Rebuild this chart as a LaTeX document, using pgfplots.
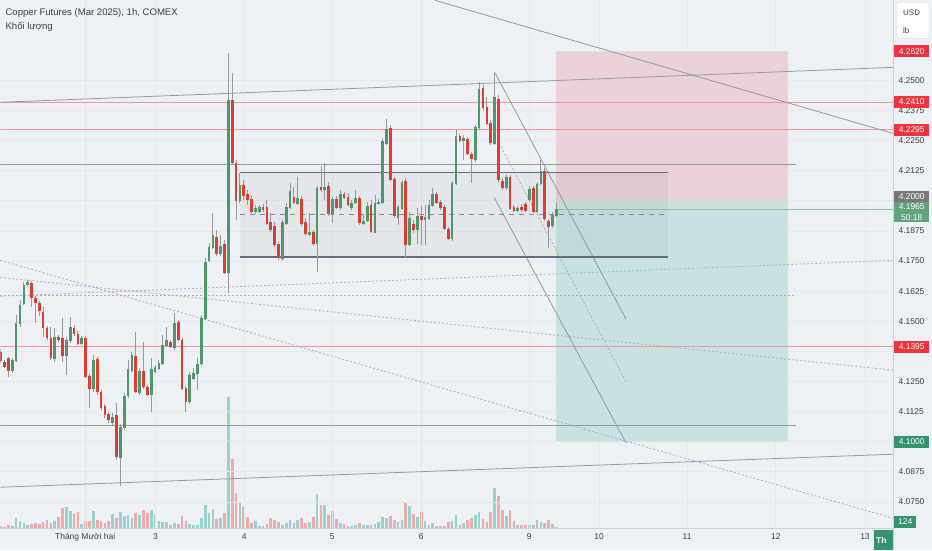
\documentclass[border=0pt]{standalone}
\usepackage{fontspec}
\setmainfont{Liberation Sans}
\usepackage{pgfplots}
\usepackage{pgfplotstable}
\pgfplotsset{compat=1.18}
\definecolor{bgc}{RGB}{237,240,244}
\definecolor{gridc}{RGB}{228,232,237}
\definecolor{cgreen}{RGB}{78,150,108}
\definecolor{cred}{RGB}{222,62,50}
\definecolor{wickc}{RGB}{150,152,158}
\definecolor{volg}{RGB}{152,210,205}
\definecolor{volr}{RGB}{240,170,170}
\definecolor{pinkc}{RGB}{233,210,216}
\definecolor{tealc}{RGB}{200,226,225}
\definecolor{lredc}{RGB}{238,150,156}
\definecolor{lgrey}{RGB}{150,152,160}
\definecolor{dashc}{RGB}{175,168,192}
\definecolor{rangec}{RGB}{105,108,118}
\definecolor{tickc}{RGB}{60,62,70}
\definecolor{boxred}{RGB}{238,52,64}
\definecolor{boxgreen}{RGB}{52,148,112}
\definecolor{boxlg}{RGB}{96,164,126}
\definecolor{boxgrey}{RGB}{118,120,126}

\pgfplotstableread{
i o h l c v
0 4.1372 4.1384 4.1326 4.1338 160
1 4.1330 4.1338 4.1305 4.1313 120
2 4.1346 4.1350 4.1268 4.1297 240
3 4.1297 4.1346 4.1285 4.1338 160
4 4.1338 4.1525 4.1330 4.1492 800
5 4.1492 4.1587 4.1475 4.1566 560
6 4.1575 4.1662 4.1566 4.1649 400
7 4.1653 4.1670 4.1645 4.1662 240
8 4.1658 4.1666 4.1558 4.1600 320
9 4.1595 4.1604 4.1492 4.1579 400
10 4.1575 4.1583 4.1521 4.1546 320
11 4.1537 4.1558 4.1433 4.1475 480
12 4.1471 4.1479 4.1421 4.1433 640
13 4.1429 4.1475 4.1338 4.1350 400
14 4.1346 4.1471 4.1330 4.1433 560
15 4.1433 4.1442 4.1413 4.1425 880
16 4.1429 4.1512 4.1330 4.1359 1600
17 4.1359 4.1433 4.1276 4.1421 1680
18 4.1421 4.1516 4.1409 4.1475 1360
19 4.1471 4.1483 4.1438 4.1450 1120
20 4.1446 4.1458 4.1400 4.1409 1280
21 4.1409 4.1438 4.1400 4.1429 320
22 4.1429 4.1438 4.1263 4.1272 560
23 4.1272 4.1280 4.1139 4.1222 560
24 4.1222 4.1359 4.1206 4.1338 1360
25 4.1342 4.1350 4.1193 4.1210 640
26 4.1206 4.1214 4.1131 4.1143 560
27 4.1147 4.1155 4.1097 4.1114 400
28 4.1114 4.1122 4.1077 4.1093 560
29 4.1081 4.1118 4.1068 4.1101 1120
30 4.1110 4.1160 4.0923 4.0940 800
31 4.0936 4.1072 4.0815 4.1060 1280
32 4.1060 4.1201 4.1048 4.1189 960
33 4.1193 4.1338 4.1181 4.1301 1040
34 4.1297 4.1372 4.1288 4.1359 800
35 4.1355 4.1454 4.1201 4.1210 1200
36 4.1206 4.1305 4.1193 4.1293 1040
37 4.1293 4.1413 4.1218 4.1230 1440
38 4.1226 4.1234 4.1189 4.1197 1200
39 4.1197 4.1346 4.1122 4.1301 1440
40 4.1293 4.1317 4.1285 4.1309 1120
41 4.1305 4.1338 4.1297 4.1326 560
42 4.1326 4.1442 4.1317 4.1400 480
43 4.1400 4.1475 4.1392 4.1421 480
44 4.1413 4.1421 4.1388 4.1396 240
45 4.1392 4.1533 4.1380 4.1492 400
46 4.1496 4.1504 4.1417 4.1425 320
47 4.1421 4.1429 4.1214 4.1222 960
48 4.1222 4.1230 4.1122 4.1168 560
49 4.1168 4.1288 4.1155 4.1276 320
50 4.1263 4.1305 4.1255 4.1285 240
51 4.1285 4.1346 4.1214 4.1321 240
52 4.1326 4.1525 4.1313 4.1512 800
53 4.1512 4.1762 4.1504 4.1745 1840
54 4.1753 4.1824 4.1745 4.1807 1200
55 4.1807 4.1948 4.1799 4.1857 1520
56 4.1849 4.1878 4.1770 4.1782 720
57 4.1782 4.1857 4.1770 4.1811 800
58 4.1819 4.1836 4.1695 4.1703 1200
59 4.1703 4.2612 4.1616 4.2417 10480
60 4.2417 4.2529 4.2147 4.2160 5520
61 4.2156 4.2168 4.1919 4.2002 2800
62 4.2002 4.2114 4.1990 4.2064 2000
63 4.2064 4.2085 4.2002 4.2023 1680
64 4.2027 4.2044 4.1981 4.2006 880
65 4.2006 4.2023 4.1948 4.1956 400
66 4.1956 4.1981 4.1944 4.1969 560
67 4.1956 4.1981 4.1948 4.1973 160
68 4.1973 4.1985 4.1952 4.1965 160
69 4.1973 4.2002 4.1898 4.1907 320
70 4.1911 4.1948 4.1869 4.1882 800
71 4.1894 4.1911 4.1807 4.1819 640
72 4.1819 4.1828 4.1753 4.1766 480
73 4.1762 4.1919 4.1749 4.1911 240
74 4.1907 4.1990 4.1898 4.1973 400
75 4.1973 4.2073 4.1965 4.2040 640
76 4.2015 4.2056 4.1985 4.1994 400
77 4.1990 4.2097 4.1981 4.2010 640
78 4.2006 4.2019 4.1894 4.1907 800
79 4.1911 4.1927 4.1853 4.1865 400
80 4.1861 4.1948 4.1853 4.1869 480
81 4.1869 4.1878 4.1811 4.1824 880
82 4.1824 4.2060 4.1703 4.2052 2720
83 4.2056 4.2143 4.2035 4.2048 1840
84 4.2048 4.2156 4.2002 4.2056 1840
85 4.2060 4.2077 4.1936 4.1948 1040
86 4.1948 4.2015 4.1907 4.2006 1360
87 4.2006 4.2019 4.1965 4.1973 720
88 4.1973 4.2044 4.1961 4.2027 400
89 4.2027 4.2035 4.2006 4.2015 320
90 4.2015 4.2031 4.1977 4.1985 160
91 4.1973 4.2002 4.1961 4.1990 160
92 4.1994 4.2044 4.1985 4.2010 240
93 4.2010 4.2019 4.1898 4.1911 400
94 4.1907 4.1940 4.1898 4.1915 240
95 4.1919 4.1994 4.1911 4.1977 240
96 4.1981 4.2002 4.1865 4.1873 240
97 4.1869 4.2023 4.1865 4.1990 320
98 4.1990 4.2006 4.1981 4.1994 480
99 4.1994 4.2259 4.1985 4.2247 880
100 4.2239 4.2338 4.2230 4.2297 800
101 4.2301 4.2313 4.2081 4.2089 960
102 4.2089 4.2097 4.1927 4.1940 640
103 4.1931 4.1981 4.1898 4.1973 480
104 4.1969 4.2085 4.1961 4.2077 640
105 4.2081 4.2093 4.1762 4.1819 2080
106 4.1819 4.1952 4.1811 4.1927 1760
107 4.1903 4.1919 4.1865 4.1882 1120
108 4.1882 4.1969 4.1819 4.1936 880
109 4.1936 4.1977 4.1815 4.1923 1280
110 4.1923 4.1981 4.1815 4.1931 560
111 4.1927 4.2002 4.1919 4.1981 240
112 4.1981 4.2052 4.1973 4.2027 400
113 4.2027 4.2035 4.1985 4.1994 160
114 4.1994 4.2002 4.1961 4.1973 160
115 4.1973 4.1981 4.1878 4.1886 160
116 4.1882 4.1890 4.1836 4.1844 480
117 4.1844 4.2081 4.1832 4.2073 560
118 4.2073 4.2293 4.2064 4.2268 1040
119 4.2268 4.2276 4.2243 4.2251 240
120 4.2251 4.2272 4.2168 4.2259 400
121 4.2255 4.2263 4.2189 4.2197 640
122 4.2193 4.2201 4.2073 4.2176 800
123 4.2172 4.2313 4.2160 4.2305 1040
124 4.2305 4.2492 4.2293 4.2463 1280
125 4.2467 4.2479 4.2376 4.2388 720
126 4.2388 4.2429 4.2313 4.2322 480
127 4.2322 4.2334 4.2230 4.2243 1280
128 4.2239 4.2533 4.2230 4.2429 3200
129 4.2421 4.2438 4.2073 4.2089 2560
130 4.2081 4.2093 4.2044 4.2056 1440
131 4.2056 4.2106 4.2044 4.2097 960
132 4.2097 4.2106 4.1961 4.1969 1440
133 4.1973 4.1981 4.1952 4.1961 560
134 4.1961 4.1977 4.1952 4.1969 240
135 4.1973 4.1985 4.1952 4.1965 240
136 4.1985 4.1994 4.1952 4.1961 240
137 4.2006 4.2060 4.1994 4.2048 240
138 4.2052 4.2060 4.1948 4.1956 240
139 4.1956 4.2077 4.1948 4.2069 640
140 4.2073 4.2168 4.2064 4.2122 480
141 4.2122 4.2135 4.1915 4.1927 400
142 4.1915 4.1923 4.1803 4.1894 640
143 4.1898 4.1952 4.1886 4.1940 320
144 4.1940 4.1994 4.1931 4.1965 124
}\candles

\begin{document}
\begin{tikzpicture}
\fill[bgc] (0bp,0bp) rectangle (932bp,550bp);
% volume pane
\begin{axis}[at={(0bp,22bp)}, anchor=south west, scale only axis,
  width=893bp, height=528bp, xmin=-0.08, xmax=231.27, ymin=0, ymax=42240,
  hide axis]
\addplot[ycomb, mark=none, draw=volg, line width=2.7bp,
  restrict expr to domain={\thisrow{c}-\thisrow{o}}{0:1}] table[x=i,y=v]{\candles};
\addplot[ycomb, mark=none, draw=volr, line width=2.7bp,
  restrict expr to domain={\thisrow{c}-\thisrow{o}}{-1:-0.00001}] table[x=i,y=v]{\candles};
\end{axis}
% price pane
\begin{axis}[at={(0bp,22bp)}, anchor=south west, scale only axis,
  width=893bp, height=528bp, xmin=-0.08, xmax=231.27, ymin=4.0641, ymax=4.2832,
  clip mode=individual,
  axis line style={draw=none}, major tick length=0pt,
  grid=major, grid style={draw=gridc, line width=0.7bp},
  ytick={4.075,4.0875,4.1,4.1125,4.125,4.15,4.1625,4.175,4.1875,4.2125,4.225,4.2375,4.25},
  extra y ticks={4.1375,4.2}, extra y tick labels={},
  extra y tick style={grid=major, major tick length=0pt},
  yticklabel pos=right,
  yticklabel={\pgfmathprintnumber[fixed,fixed zerofill,precision=4,assume math mode=true]{\tick}},
  yticklabel style={font=\fontsize{8.5}{10}\selectfont, text=tickc, anchor=west, xshift=2bp},
  xtick={21.9,40.1,63.1,85.9,109.0,137.0,155.1,177.9,200.9,224.0},
  xticklabels={Tháng Mười hai,3,4,5,6,9,10,11,12,13},
  xticklabel style={font=\fontsize{8.5}{10}\selectfont, text=tickc, yshift=-2bp},
]
% long position tool
\addplot[fill=pinkc, draw=none] coordinates {(143.96,4.2) (204.1,4.2) (204.1,4.262) (143.96,4.262) (143.96,4.2)};
\addplot[fill=tealc, draw=none] coordinates {(143.96,4.1) (204.1,4.1) (204.1,4.2) (143.96,4.2) (143.96,4.1)};
% range box
\addplot[fill=rangec, fill opacity=0.07, draw=none] coordinates {(61.9,4.1767) (173.0,4.1767) (173.0,4.2118) (61.9,4.2118) (61.9,4.1767)};
% horizontal levels
\addplot[lredc, line width=0.8bp] coordinates {(-0.08,4.2410) (231.27,4.2410)};
\addplot[lredc, line width=0.8bp] coordinates {(-0.08,4.2295) (231.27,4.2295)};
\addplot[lredc, line width=0.8bp] coordinates {(-0.08,4.1395) (231.27,4.1395)};
\addplot[lgrey, line width=0.8bp] coordinates {(-0.08,4.2151) (206.1,4.2151)};
\addplot[lgrey, line width=0.8bp] coordinates {(-0.08,4.1068) (206.1,4.1068)};
% trend lines
\addplot[lgrey, line width=0.8bp] coordinates {(-0.08,4.2409) (231.27,4.2554)};
\addplot[lgrey, line width=0.8bp] coordinates {(-0.08,4.0811) (231.27,4.0948)};
\addplot[lgrey, line width=0.8bp] coordinates {(112.6,4.2832) (231.27,4.2280)};
\addplot[lgrey, line width=0.8bp] coordinates {(128.2,4.2529) (162.1,4.1508)};
\addplot[lgrey, line width=0.8bp] coordinates {(127.9,4.2014) (162.1,4.0994)};
\addplot[dashc, line width=0.8bp, dash pattern=on 2bp off 2bp] coordinates {(129.2,4.2239) (162.1,4.1247)};
\addplot[dashc, line width=0.8bp, dash pattern=on 2bp off 2bp] coordinates {(-0.08,4.1604) (231.27,4.1753)};
\addplot[dashc, line width=0.8bp, dash pattern=on 2bp off 2bp] coordinates {(-0.08,4.1608) (206.1,4.1608)};
\addplot[dashc, line width=0.8bp, dash pattern=on 2bp off 2bp] coordinates {(-0.08,4.1682) (231.27,4.1297)};
\addplot[dashc, line width=0.8bp, dash pattern=on 2bp off 2bp] coordinates {(-0.08,4.1753) (231.27,4.0682)};
% range box lines
\addplot[rangec, line width=1.4bp] coordinates {(61.9,4.2118) (173.0,4.2118)};
\addplot[rangec, line width=1.4bp] coordinates {(61.9,4.1767) (173.0,4.1767)};
\addplot[rangec!80, line width=1.2bp, dash pattern=on 5bp off 5bp] coordinates {(61.9,4.1944) (173.0,4.1944)};
% current price line
\addplot[boxlg!70, line width=0.6bp] coordinates {(144,4.1965) (231.27,4.1965)};
% wicks
\addplot[draw=none, mark=none, error bars/.cd, y dir=both, y explicit, error mark=none,
  error bar style={draw=wickc, line width=0.9bp}]
  table[x=i, y expr={(\thisrow{h}+\thisrow{l})/2}, y error expr={(\thisrow{h}-\thisrow{l})/2}]{\candles};
% bodies
\addplot[draw=none, mark=none, restrict expr to domain={\thisrow{c}-\thisrow{o}}{0:1},
  error bars/.cd, y dir=both, y explicit, error mark=none,
  error bar style={draw=cgreen, line width=2.7bp}]
  table[x=i, y expr={(\thisrow{o}+\thisrow{c})/2}, y error expr={abs(\thisrow{c}-\thisrow{o})/2+0.0002}]{\candles};
\addplot[draw=none, mark=none, restrict expr to domain={\thisrow{c}-\thisrow{o}}{-1:-0.00001},
  error bars/.cd, y dir=both, y explicit, error mark=none,
  error bar style={draw=cred, line width=2.7bp}]
  table[x=i, y expr={(\thisrow{o}+\thisrow{c})/2}, y error expr={abs(\thisrow{c}-\thisrow{o})/2+0.0002}]{\candles};
\coordinate (L1) at (axis cs:231.27,4.2620);
\coordinate (L2) at (axis cs:231.27,4.2410);
\coordinate (L3) at (axis cs:231.27,4.2295);
\coordinate (L4) at (axis cs:231.27,4.1994);
\coordinate (L5) at (axis cs:231.27,4.1395);
\coordinate (L6) at (axis cs:231.27,4.1000);
\end{axis}
% right scale separator and bottom line
\draw[color={rgb,255:red,205;green,208;blue,214}, line width=0.8bp] (893bp,0bp) -- (893bp,550bp);
\draw[color={rgb,255:red,205;green,208;blue,214}, line width=0.8bp] (0bp,22bp) -- (893bp,22bp);
% price labels
\tikzset{pl/.style={anchor=west, xshift=1bp, inner sep=1.5bp, minimum width=35bp, minimum height=12bp, text=white, font=\fontsize{8.5}{10}\selectfont}}
\node[pl, fill=boxred] at (L1) {4.2620};
\node[pl, fill=boxred] at (L2) {4.2410};
\node[pl, fill=boxred] at (L3) {4.2295};
\node[pl, fill=boxgrey, anchor=south west, minimum height=11bp] at (L4) {4.2000};
\node[pl, fill=boxlg, anchor=north west, align=center, font=\fontsize{8.5}{11}\selectfont] at (L4) {4.1965\\50:18};
\node[pl, fill=boxred] at (L5) {4.1395};
\node[pl, fill=boxgreen] at (L6) {4.1000};
\node[pl, fill=boxgreen, minimum width=22bp, anchor=south west] at (893bp,22bp) {124};
% crosshair date box
\fill[boxgreen] (874bp,0bp) rectangle (893bp,20bp);
\node[anchor=west, text=white, font=\bfseries\fontsize{8.5}{10}\selectfont, inner sep=0pt] at (876bp,10bp) {Th};
% currency box
\filldraw[fill=white, draw={rgb,255:red,220;green,223;blue,228}, rounded corners=2bp] (897bp,512bp) rectangle (929bp,548bp);
\node[anchor=west, text=tickc, font=\fontsize{8}{10}\selectfont, inner sep=0pt] at (903bp,538bp) {USD};
\node[anchor=west, text=tickc, font=\fontsize{8}{10}\selectfont, inner sep=0pt] at (903bp,520bp) {lb};
% titles
\node[anchor=west, text=tickc, font=\fontsize{9.6}{11}\selectfont, inner sep=0pt] at (5bp,537bp) {Copper Futures (Mar 2025), 1h, COMEX};
\node[anchor=west, text=tickc, font=\fontsize{9.6}{11}\selectfont, inner sep=0pt] at (5bp,524bp) {Khối lượng};
\end{tikzpicture}
\end{document}
